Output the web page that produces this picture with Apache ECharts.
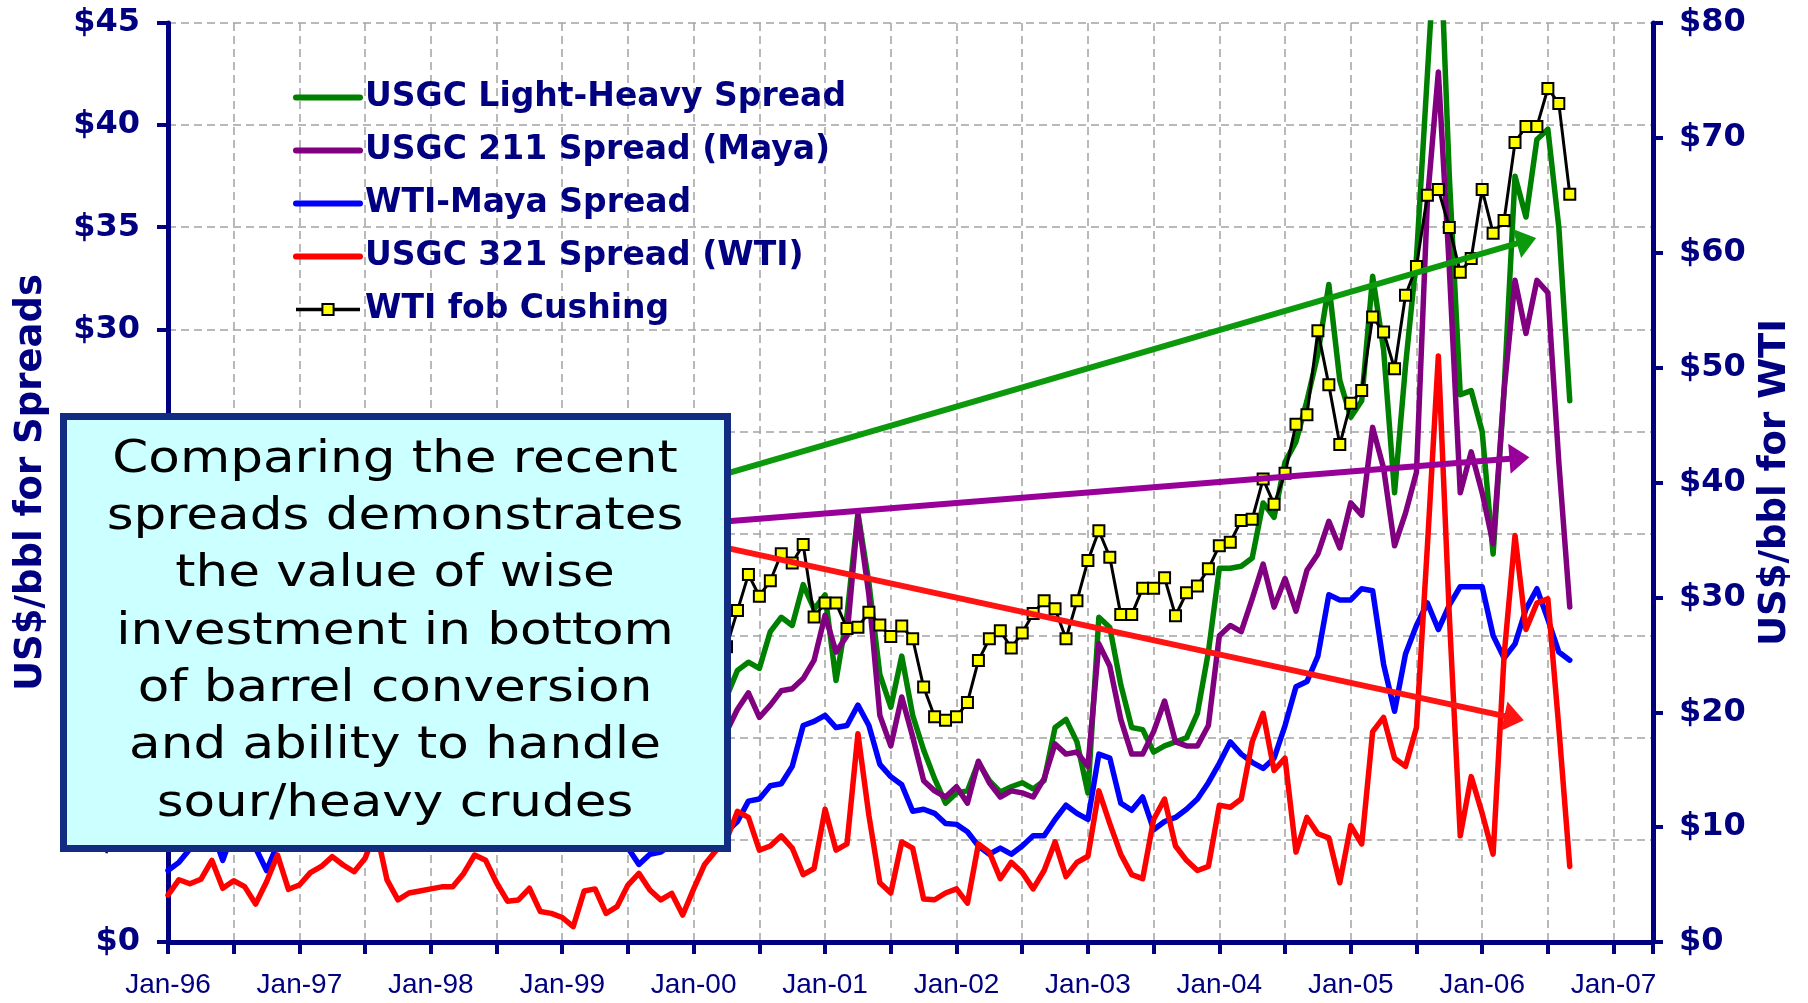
<!DOCTYPE html>
<html><head><meta charset="utf-8">
<script src="https://cdn.jsdelivr.net/npm/echarts@6/dist/echarts.min.js"></script>
<style>html,body{margin:0;padding:0;background:#fff}#chart{width:1808px;height:1003px}</style>
</head><body><div id="chart"></div>
<script>
// ---- categories: monthly, Jan-96 .. Sep-06 ----
const monthNames = ['Jan','Feb','Mar','Apr','May','Jun','Jul','Aug','Sep','Oct','Nov','Dec'];
const months = [];
for (let y = 1996; y <= 2006; y++) for (let m = 0; m < 12; m++) {
  if (y === 2006 && m > 8) break;
  months.push(monthNames[m] + '-' + String(y % 100).padStart(2, '0'));
}
const xTickLabels = ['Jan-96','Jan-97','Jan-98','Jan-99','Jan-00','Jan-01','Jan-02','Jan-03','Jan-04','Jan-05','Jan-06','Jan-07'];
const leftTicks = ['$0','$5','$10','$15','$20','$25','$30','$35','$40','$45'];
const rightTicks = ['$0','$10','$20','$30','$40','$50','$60','$70','$80'];

// ---- series values (US$/bbl) ----
const lightHeavy = [
 9.0,9.5,10.5,11.5,10.2,9.4,9.8,10.2,10.8,11.6,12.4,11.5,
 10.6,9.8,9.0,9.2,9.8,9.4,8.8,9.0,9.6,10.2,9.6,8.9,
 8.4,7.9,8.2,8.8,9.2,8.6,7.9,7.6,8.0,7.5,7.0,6.8,
 7.2,7.6,8.4,9.0,9.4,9.0,8.6,9.2,9.8,9.4,9.0,9.6,
 10.2,11.0,11.5,12.0,13.3,13.7,13.4,15.2,15.9,15.5,17.5,16.3,
 17.0,12.8,16.0,21.0,17.6,13.1,11.5,14.0,11.1,9.4,8.0,6.8,
 7.3,7.4,8.8,7.9,7.35,7.6,7.8,7.5,7.9,10.5,10.9,9.8,
 7.3,15.9,15.4,12.6,10.5,10.4,9.3,9.6,9.8,10.0,11.2,14.2,
 18.3,18.3,18.4,18.8,21.5,20.8,23.5,24.5,26.5,28.8,32.2,27.5,
 25.7,26.5,32.6,29.0,22.0,28.2,33.5,42.5,51.5,37.5,26.8,27.0,
 25.0,19.0,27.0,37.5,35.5,39.3,39.8,35.0,26.5];
const spread211 = [
 7.5,8.0,8.8,9.5,8.6,7.8,8.2,8.5,9.0,9.8,10.5,9.6,
 9.0,8.2,7.6,7.8,8.4,8.0,7.5,7.8,8.3,8.8,8.2,7.6,
 7.2,6.8,7.0,7.6,8.0,7.4,6.8,6.5,6.9,6.4,6.0,5.8,
 6.2,6.6,7.4,8.0,8.5,8.2,7.8,8.4,9.0,8.6,8.2,8.8,
 9.3,9.8,10.0,10.3,11.4,12.2,11.0,11.6,12.3,12.4,12.9,13.8,
 16.0,14.2,15.0,20.9,17.0,11.1,9.6,12.0,10.05,7.9,7.4,7.1,
 7.6,6.8,8.85,7.8,7.1,7.4,7.3,7.1,8.0,9.7,9.2,9.3,
 8.6,14.6,13.5,10.9,9.2,9.2,10.3,11.8,9.8,9.6,9.6,10.6,
 15.0,15.5,15.2,16.8,18.5,16.4,17.8,16.2,18.2,19.0,20.6,19.3,
 21.5,20.9,25.2,23.2,19.4,21.0,23.0,36.3,42.6,33.0,22.0,24.0,
 22.0,19.5,27.0,32.4,29.8,32.4,31.8,23.5,16.4];
const wtiMaya = [
 3.5,3.9,4.55,5.0,5.5,4.0,5.5,5.2,4.6,3.5,4.8,6.0,
 6.8,6.2,5.8,5.5,5.6,5.2,5.6,6.2,6.5,6.0,6.8,7.5,
 7.0,6.3,6.0,5.8,5.5,5.2,5.4,5.6,5.8,6.0,5.5,5.2,
 5.5,5.3,5.8,6.2,5.8,5.2,4.6,3.8,4.3,4.4,4.8,5.0,
 4.8,5.0,5.2,5.4,5.9,6.9,7.0,7.65,7.75,8.6,10.6,10.8,
 11.1,10.5,10.6,11.6,10.6,8.7,8.1,7.7,6.4,6.5,6.3,5.8,
 5.76,5.4,4.7,4.3,4.6,4.3,4.7,5.2,5.2,6.0,6.7,6.3,
 6.0,9.2,9.0,6.8,6.45,7.1,5.5,5.9,6.1,6.5,7.0,7.8,
 8.75,9.8,9.2,8.8,8.5,9.0,10.6,12.5,12.75,14.0,17.0,16.75,
 16.75,17.3,17.2,13.6,11.3,14.1,15.5,16.6,15.3,16.5,17.4,17.4,
 17.4,15.0,13.9,14.6,16.3,17.3,15.8,14.2,13.8];
const spread321 = [
 2.3,3.05,2.85,3.07,4.0,2.63,3.0,2.71,1.86,2.95,4.26,2.58,
 2.79,3.4,3.7,4.18,3.77,3.44,4.1,5.5,3.04,2.06,2.4,2.5,
 2.6,2.7,2.71,3.36,4.26,4.0,2.9,2.0,2.06,2.63,1.49,1.4,
 1.2,0.75,2.5,2.6,1.4,1.73,2.79,3.36,2.55,2.06,2.38,1.32,
 2.6,3.8,4.45,5.0,6.4,6.1,4.5,4.7,5.2,4.6,3.3,3.6,
 6.5,4.5,4.8,10.2,6.2,2.9,2.4,4.9,4.6,2.1,2.07,2.4,
 2.6,1.9,4.8,4.4,3.1,3.9,3.4,2.6,3.5,4.9,3.2,3.9,
 4.2,7.4,5.8,4.3,3.3,3.1,6.0,7.0,4.7,4.0,3.5,3.7,
 6.7,6.6,7.0,9.8,11.2,8.4,9.0,4.4,6.1,5.3,5.1,2.9,
 5.7,4.8,10.3,11.0,9.0,8.6,10.5,19.4,28.7,16.0,5.2,8.1,
 6.3,4.3,14.0,19.9,15.3,16.6,16.8,10.5,3.7];
const wtiCushing = [
 18.9,19.1,21.3,23.5,21.2,20.4,21.3,21.9,23.9,24.9,23.7,25.2,
 25.1,22.2,21.0,19.7,20.8,19.2,19.6,19.9,19.8,21.3,20.2,18.3,
 16.7,16.1,15.0,15.4,14.9,13.7,14.1,13.4,15.0,14.4,12.9,11.3,
 12.5,12.0,14.7,17.3,17.8,17.9,20.1,21.3,23.9,22.6,25.0,26.1,
 27.2,29.4,29.9,25.7,28.85,32.0,30.1,31.45,33.8,33.0,34.6,28.3,
 29.5,29.5,27.3,27.4,28.7,27.6,26.6,27.5,26.4,22.2,19.6,19.3,
 19.6,20.85,24.5,26.4,27.1,25.6,26.9,28.6,29.7,29.0,26.4,29.7,
 33.2,35.8,33.5,28.5,28.5,30.8,30.8,31.7,28.4,30.4,31.0,32.5,
 34.5,34.8,36.7,36.8,40.3,38.1,40.8,45.06,45.9,53.2,48.5,43.3,
 46.9,48.0,54.4,53.1,49.9,56.3,58.8,65.0,65.5,62.2,58.3,59.5,
 65.5,61.7,62.8,69.6,71.0,71.0,74.3,73.0,65.1];

// annotation arrows: [startMonthIdx, startValue, endMonthIdx, endValue] on the spreads axis
const arrowGreen = [40, 21.22, 124.05, 34.34];
const arrowPurple = [40, 20.12, 123.4, 23.70];
const arrowRed = [40, 20.57, 122.91, 10.96];

const boxLines = ['Comparing the recent','spreads demonstrates','the value of wise','investment in bottom','of barrel conversion','and ability to handle','sour/heavy crudes'];

const NAVY = '#000080';
const GRID = '#a3a3a3';
const LW = 5.5;
const toPairs = arr => months.map((m, i) => [i, arr[i]]);

const chart = echarts.init(document.getElementById('chart'), null, {renderer: 'canvas'});

function arrowSeries(a, color) {
  return {
    type: 'line', data: [], yAxisIndex: 0, z: 3, silent: true,
    markLine: {
      silent: true, animation: false, label: {show: false},
      lineStyle: {color: color, width: 6, type: 'solid', cap: 'butt'},
      data: [[
        {coord: [a[0], a[1]], symbol: 'none'},
        {coord: [a[2], a[3]], symbol: 'triangle', symbolSize: [30, 20]}
      ]]
    }
  };
}

const option = {
  animation: false,
  backgroundColor: '#ffffff',
  grid: {left: 168, right: 155, top: 23, bottom: 61, containLabel: false},
  legend: {
    orient: 'vertical', left: 288, top: 76,
    itemWidth: 64, itemHeight: 14, itemGap: 20,
    textStyle: {color: NAVY, fontFamily: 'DejaVu Sans', fontWeight: 'bold', fontSize: 33},
    data: [
      {name: 'USGC Light-Heavy Spread', lineStyle: {width: 6}, itemStyle: {opacity: 0}},
      {name: 'USGC 211 Spread (Maya)', lineStyle: {width: 6}, itemStyle: {opacity: 0}},
      {name: 'WTI-Maya Spread', lineStyle: {width: 6}, itemStyle: {opacity: 0}},
      {name: 'USGC 321 Spread (WTI)', lineStyle: {width: 6}, itemStyle: {opacity: 0}},
      {name: 'WTI fob Cushing', lineStyle: {width: 3.5}}
    ]
  },
  xAxis: {
    type: 'value', min: 0, max: 135.6, interval: 6,
    axisLine: {show: true, onZero: false, lineStyle: {color: NAVY, width: 5}},
    axisTick: {show: true, length: 12, lineStyle: {color: NAVY, width: 4}},
    axisLabel: {
      formatter: v => (v % 12 === 0 && xTickLabels[v / 12]) ? xTickLabels[v / 12] : '',
      color: NAVY, fontFamily: 'Liberation Sans', fontSize: 28, margin: 29
    },
    splitLine: {show: true, lineStyle: {color: GRID, width: 1.5, type: [8, 5]}}
  },
  yAxis: [{
    type: 'value', position: 'left', min: 0, max: 45, interval: 5,
    name: 'US$/bbl for Spreads', nameLocation: 'middle', nameRotate: 90, nameGap: 118,
    nameTextStyle: {color: NAVY, fontFamily: 'DejaVu Sans', fontWeight: 'bold', fontSize: 37},
    axisLine: {show: true, onZero: false, lineStyle: {color: NAVY, width: 5}},
    axisTick: {show: true, length: 11, lineStyle: {color: NAVY, width: 4}},
    axisLabel: {formatter: v => leftTicks[v / 5], color: NAVY, fontFamily: 'DejaVu Sans', fontWeight: 'bold', fontSize: 32, margin: 28},
    splitLine: {show: true, lineStyle: {color: GRID, width: 1.5, type: [8, 5]}}
  }, {
    type: 'value', position: 'right', min: 0, max: 80, interval: 10,
    name: 'US$/bbl for WTI', nameLocation: 'middle', nameRotate: 90, nameGap: 95,
    nameTextStyle: {color: NAVY, fontFamily: 'DejaVu Sans', fontWeight: 'bold', fontSize: 37},
    axisLine: {show: true, onZero: false, lineStyle: {color: NAVY, width: 5}},
    axisTick: {show: true, length: 10, lineStyle: {color: NAVY, width: 4}},
    axisLabel: {formatter: v => rightTicks[v / 10], color: NAVY, fontFamily: 'DejaVu Sans', fontWeight: 'bold', fontSize: 32, margin: 26},
    splitLine: {show: false}
  }],
  series: [
    {name: 'USGC Light-Heavy Spread', type: 'line', yAxisIndex: 0, z: 2, symbol: 'none', data: toPairs(lightHeavy),
     itemStyle: {color: '#008000'}, lineStyle: {color: '#008000', width: LW, join: 'round', cap: 'round'}},
    {name: 'USGC 211 Spread (Maya)', type: 'line', yAxisIndex: 0, z: 2, symbol: 'none', data: toPairs(spread211),
     itemStyle: {color: '#800080'}, lineStyle: {color: '#800080', width: LW, join: 'round', cap: 'round'}},
    {name: 'WTI-Maya Spread', type: 'line', yAxisIndex: 0, z: 2, symbol: 'none', data: toPairs(wtiMaya),
     itemStyle: {color: '#0000ff'}, lineStyle: {color: '#0000ff', width: LW, join: 'round', cap: 'round'}},
    {name: 'USGC 321 Spread (WTI)', type: 'line', yAxisIndex: 0, z: 2, symbol: 'none', data: toPairs(spread321),
     itemStyle: {color: '#ff0000'}, lineStyle: {color: '#ff0000', width: LW, join: 'round', cap: 'round'}},
    arrowSeries(arrowGreen, '#0c9a0c'),
    arrowSeries(arrowPurple, '#990099'),
    arrowSeries(arrowRed, '#ff1414'),
    {name: 'WTI fob Cushing', type: 'line', yAxisIndex: 1, z: 4, symbol: 'rect', symbolSize: 11,
     showSymbol: true, showAllSymbol: true, data: toPairs(wtiCushing),
     itemStyle: {color: '#ffff00', borderColor: '#000000', borderWidth: 2},
     lineStyle: {color: '#000000', width: 3, join: 'round'}}
  ],
  graphic: [
    {type: 'rect', z: 100, silent: true,
     shape: {x: 63.5, y: 416.5, width: 664, height: 432},
     style: {fill: '#ccffff', stroke: '#112c80', lineWidth: 7}},
    {type: 'text', z: 101, silent: true, x: 395, y: 632, scaleX: 1.146,
     style: {text: boxLines.join('\n'), fontSize: 45, fontFamily: 'DejaVu Sans', fill: '#000000',
             textAlign: 'center', textVerticalAlign: 'middle', align: 'center', verticalAlign: 'middle', lineHeight: 57.3}}
  ]
};
chart.setOption(option);
</script></body></html>
